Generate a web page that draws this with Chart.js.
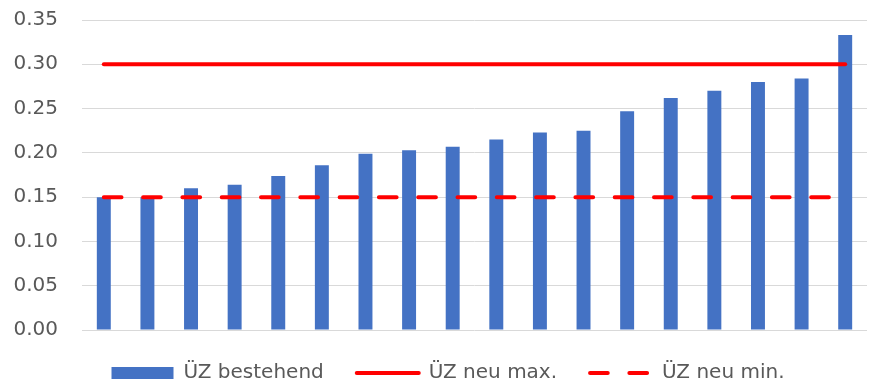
<!DOCTYPE html>
<html lang="de">
<head>
<meta charset="utf-8">
<title>ÜZ bestehend / neu</title>
<script src="https://cdn.jsdelivr.net/npm/chart.js@4.4.1/dist/chart.umd.min.js"></script>
<style>
    html, body { margin: 0; padding: 0; background: #ffffff; }
    #wrap { width: 869px; height: 385px; position: relative; }
</style>
</head>
<body>
<div id="wrap"><canvas id="uzChart"></canvas></div>
<script>
// Kategorien (18 Anlagen, aufsteigend sortiert)
const categories = ['1', '2', '3', '4', '5', '6', '7', '8', '9', '10', '11', '12', '13', '14', '15', '16', '17', '18'];

// ÜZ bestehend
const uzBestehend = [0.150, 0.150, 0.160, 0.164, 0.174, 0.186, 0.199, 0.203, 0.207, 0.215, 0.223, 0.225, 0.247, 0.262, 0.270, 0.280, 0.284, 0.333];

// neue Grenzwerte
const uzNeuMax = [0.30, 0.30, 0.30, 0.30, 0.30, 0.30, 0.30, 0.30, 0.30, 0.30, 0.30, 0.30, 0.30, 0.30, 0.30, 0.30, 0.30, 0.30];
const uzNeuMin = [0.15, 0.15, 0.15, 0.15, 0.15, 0.15, 0.15, 0.15, 0.15, 0.15, 0.15, 0.15, 0.15, 0.15, 0.15, 0.15, 0.15, 0.15];

// Achse
const yTicks = [0.00, 0.05, 0.10, 0.15, 0.20, 0.25, 0.30, 0.35];

const labelNames = ['ÜZ bestehend', 'ÜZ neu max.', 'ÜZ neu min.'];

const BLUE = '#4472C4';
const RED = '#FF0000';
const TEXT = '#595959';
const GRID = '#D9D9D9';
const FONT = "'DejaVu Sans', sans-serif";

// Legende selbst bauen: Balken als Rechteck, Linien als Strich
function buildLegend(chart) {
    return chart.data.datasets.map((ds, i) => {
        const isBar = ds.type === 'bar';
        return {
            text: ds.label,
            datasetIndex: i,
            fillStyle: isBar ? ds.backgroundColor : ds.borderColor,
            strokeStyle: ds.borderColor,
            lineWidth: isBar ? 0 : ds.borderWidth,
            lineDash: ds.borderDash || [],
            lineCap: isBar ? 'butt' : 'round',
            pointStyle: isBar ? 'rect' : 'line',
            fontColor: TEXT,
            hidden: !chart.isDatasetVisible(i)
        };
    });
}

const ctx = document.getElementById('uzChart').getContext('2d');

new Chart(ctx, {
    data: {
        labels: categories,
        datasets: [
            {
                type: 'bar',
                label: labelNames[0],
                data: uzBestehend,
                backgroundColor: BLUE,
                borderColor: BLUE,
                borderWidth: 0,
                barPercentage: 0.8,
                categoryPercentage: 0.4,
                order: 1
            },
            {
                type: 'line',
                label: labelNames[1],
                data: uzNeuMax,
                borderColor: RED,
                borderWidth: 4,
                borderCapStyle: 'round',
                pointRadius: 0,
                fill: false,
                order: 0
            },
            {
                type: 'line',
                label: labelNames[2],
                data: uzNeuMin,
                borderColor: RED,
                borderWidth: 4,
                borderDash: [17.7, 21.6],
                borderCapStyle: 'round',
                pointRadius: 0,
                fill: false,
                order: 0
            }
        ]
    },
    options: {
        responsive: true,
        maintainAspectRatio: false,
        animation: false,
        layout: {
            padding: { left: 29, right: 2, top: 20, bottom: -8 }
        },
        plugins: {
            tooltip: { enabled: false },
            legend: {
                display: true,
                position: 'bottom',
                labels: {
                    usePointStyle: true,
                    pointStyleWidth: 62,
                    boxHeight: 12,
                    padding: 33,
                    color: TEXT,
                    font: { family: FONT, size: 20 },
                    generateLabels: buildLegend
                }
            }
        },
        scales: {
            x: {
                display: false
            },
            y: {
                min: yTicks[0],
                max: yTicks[yTicks.length - 1],
                afterFit: function(scale) {
                    // feste Breite, Beschriftung ragt nach links heraus
                    scale.width = 53;
                    scale.paddingTop = 0;
                    scale.paddingBottom = 0;
                },
                afterBuildTicks: function(scale) {
                    scale.ticks = yTicks.map(v => ({ value: v }));
                },
                border: { display: false },
                grid: {
                    color: GRID,
                    lineWidth: 1,
                    drawTicks: false,
                    tickLength: 0
                },
                ticks: {
                    mirror: true,
                    padding: -68.5,
                    color: TEXT,
                    font: { family: FONT, size: 20 },
                    callback: function(value) {
                        return Number(value).toFixed(2);
                    }
                }
            }
        }
    }
});
</script>
</body>
</html>
